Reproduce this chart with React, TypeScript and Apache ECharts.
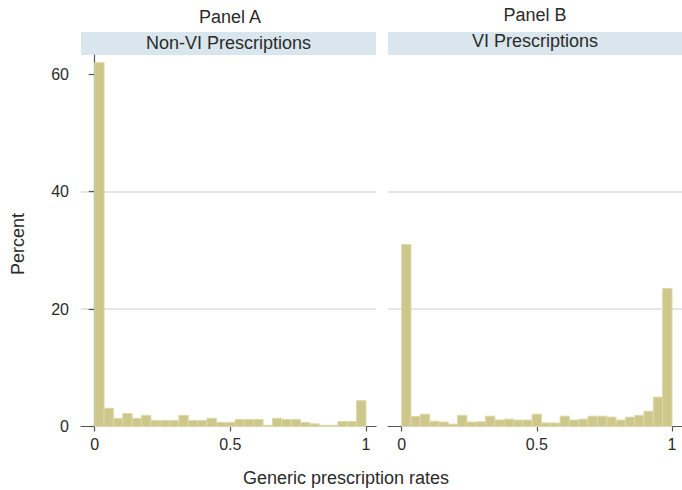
import React, { useEffect, useRef } from "react";
import * as echarts from "echarts";

const binCount = 29;
const panelATitle = "Panel A";
const panelBTitle = "Panel B";
const stripA = "Non-VI Prescriptions";
const stripB = "VI Prescriptions";
const yTicks = [0, 20, 40, 60];
const xTicks = [0, 0.5, 1];

const nonViPercent = [
  62, 3.1, 1.4, 2.2, 1.4, 1.9, 1.0, 1.0, 1.0, 1.9, 1.0, 1.0, 1.4, 0.7, 0.7,
  1.2, 1.2, 1.2, 0.2, 1.4, 1.2, 1.2, 0.7, 0.45, 0.2, 0.2, 0.85, 0.85, 4.4,
];
const viPercent = [
  31, 1.7, 2.1, 0.9, 0.75, 0.4, 1.9, 0.75, 0.8, 1.75, 1.1, 1.25, 1.1, 1.1, 2.1,
  0.6, 0.6, 1.75, 1.1, 1.25, 1.75, 1.75, 1.6, 1.1, 1.6, 1.9, 2.6, 5.0, 23.5,
];

const FONT = "'Liberation Sans', Arial, Helvetica, sans-serif";
const TEXT = "#2b2b2b";
const AXIS = "#555555";
const BAR = "#cdc78c";
const BAR_EDGE = "#dcd8a8";
const STRIP = "#d9e6ed";
const GRIDLINE = "#dedede";

const Y_MAX = 63.3;
const X_MIN = -0.0505;
const X_MAX = 1.037;

function histData(vals: number[]) {
  const w = 1 / binCount;
  return vals.map((v, i) => [i * w, (i + 1) * w, v]);
}

function renderBar(params: any, api: any) {
  const x0 = api.value(0);
  const x1 = api.value(1);
  const v = api.value(2);
  const p0 = api.coord([x0, v]);
  const p1 = api.coord([x1, 0]);
  return {
    type: "rect",
    shape: { x: p0[0], y: p0[1], width: p1[0] - p0[0], height: p1[1] - p0[1] },
    style: { fill: BAR, stroke: BAR_EDGE, lineWidth: 1 },
  };
}

function xAxisCfg(gridIndex: number) {
  return {
    type: "value",
    gridIndex,
    min: X_MIN,
    max: X_MAX,
    axisLine: { show: true, onZero: false, lineStyle: { color: AXIS, width: 1.2 } },
    axisTick: { show: true, length: 5, customValues: xTicks, lineStyle: { color: AXIS, width: 1.2 } },
    axisLabel: {
      show: true,
      customValues: xTicks,
      margin: 10,
      fontSize: 16,
      fontFamily: FONT,
      color: TEXT,
      formatter: (v: number) => String(v),
    },
    splitLine: { show: false },
  };
}

function yAxisCfg(gridIndex: number, showAxis: boolean) {
  return {
    type: "value",
    gridIndex,
    min: 0,
    max: Y_MAX,
    interval: 20,
    axisLine: { show: showAxis, lineStyle: { color: AXIS, width: 1.2 } },
    axisTick: { show: showAxis, length: 6, customValues: yTicks, lineStyle: { color: AXIS, width: 1.2 } },
    axisLabel: {
      show: showAxis,
      customValues: yTicks,
      margin: 12,
      fontSize: 16,
      fontFamily: FONT,
      color: TEXT,
    },
    splitLine: {
      show: true,
      showMinLine: false,
      showMaxLine: false,
      lineStyle: { color: GRIDLINE, width: 1.5 },
    },
  };
}

export default function App() {
  const ref = useRef<HTMLDivElement>(null);

  useEffect(() => {
    if (!ref.current) return;
    document.body.style.margin = "0";
    document.body.style.overflow = "hidden";
    const chart = echarts.init(ref.current, null, { renderer: "svg" });
    const option: any = {
      animation: false,
      backgroundColor: "#ffffff",
      grid: [
        { left: 81, top: 55, width: 295, height: 371.5 },
        { left: 388, top: 55, width: 295, height: 371.5 },
      ],
      xAxis: [xAxisCfg(0), xAxisCfg(1)],
      yAxis: [yAxisCfg(0, true), yAxisCfg(1, false)],
      series: [
        {
          type: "custom",
          xAxisIndex: 0,
          yAxisIndex: 0,
          renderItem: renderBar,
          data: histData(nonViPercent),
          encode: { x: [0, 1], y: 2 },
        },
        {
          type: "custom",
          xAxisIndex: 1,
          yAxisIndex: 1,
          renderItem: renderBar,
          data: histData(viPercent),
          encode: { x: [0, 1], y: 2 },
        },
      ],
      graphic: [
        { type: "rect", shape: { x: 81, y: 32, width: 295, height: 23 }, style: { fill: STRIP } },
        { type: "rect", shape: { x: 388, y: 32, width: 295, height: 23 }, style: { fill: STRIP } },
        {
          type: "text",
          x: 230,
          y: 17,
          style: { text: panelATitle, font: `18px ${FONT}`, fill: TEXT, align: "center", verticalAlign: "middle" },
        },
        {
          type: "text",
          x: 228.5,
          y: 43,
          style: { text: stripA, font: `18px ${FONT}`, fill: TEXT, align: "center", verticalAlign: "middle" },
        },
        {
          type: "text",
          x: 535,
          y: 15,
          style: { text: panelBTitle, font: `18px ${FONT}`, fill: TEXT, align: "center", verticalAlign: "middle" },
        },
        {
          type: "text",
          x: 535,
          y: 41,
          style: { text: stripB, font: `18px ${FONT}`, fill: TEXT, align: "center", verticalAlign: "middle" },
        },
        {
          type: "text",
          x: 18,
          y: 244,
          rotation: Math.PI / 2,
          style: { text: "Percent", font: `18px ${FONT}`, fill: TEXT, align: "center", verticalAlign: "middle" },
        },
        {
          type: "text",
          x: 346,
          y: 478,
          style: {
            text: "Generic prescription rates",
            font: `18px ${FONT}`,
            fill: TEXT,
            align: "center",
            verticalAlign: "middle",
          },
        },
      ],
    };
    chart.setOption(option);
    return () => chart.dispose();
  }, []);

  return (
    <div
      ref={ref}
      style={{ position: "fixed", left: 0, top: 0, width: 682, height: 490 }}
    />
  );
}
